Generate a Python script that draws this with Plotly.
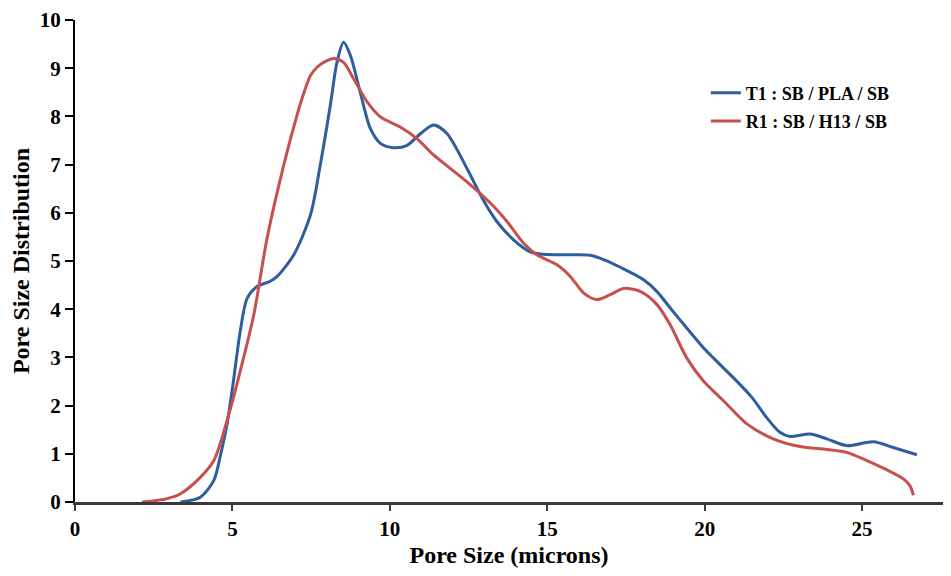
import plotly.graph_objects as go

# T1 : SB / PLA / SB
t1_x = [3.35, 3.98, 4.41, 4.63, 4.83, 5.03, 5.25, 5.47, 5.78, 6.2, 6.42, 6.95, 7.48, 7.79,
        8.11, 8.32, 8.53, 8.75, 9.06, 9.38, 9.7, 10.12, 10.55, 10.97, 11.39, 11.82, 12.45,
        12.98, 13.4, 13.93, 14.46, 14.88, 15.73, 16.37, 16.79, 17.32, 18.06, 18.48, 18.9,
        19.43, 19.96, 20.49, 20.91, 21.5, 21.97, 22.4, 22.71, 23.35, 23.88, 24.51, 25.36,
        25.99, 26.74]
t1_y = [0, 0.1, 0.45, 1.0, 1.62, 2.5, 3.55, 4.23, 4.47, 4.58, 4.68, 5.13, 5.96, 6.99,
        8.23, 9.12, 9.54, 9.26, 8.5, 7.75, 7.44, 7.35, 7.4, 7.64, 7.82, 7.64, 6.92,
        6.25, 5.82, 5.44, 5.19, 5.14, 5.13, 5.12, 5.03, 4.87, 4.61, 4.37, 4.03,
        3.61, 3.2, 2.85, 2.58, 2.17, 1.75, 1.44, 1.36, 1.41, 1.31, 1.17, 1.25,
        1.13, 0.98]

# R1 : SB / H13 / SB
r1_x = [2.13, 2.93, 3.35, 3.98, 4.41, 4.83, 5.25, 5.68, 6.1, 6.63, 7.05, 7.26, 7.48, 7.69,
        7.9, 8.22, 8.53, 8.85, 9.28, 9.7, 10.33, 10.86, 11.39, 12.45, 13.3, 13.72, 14.25,
        14.67, 15.31, 15.73, 16.15, 16.58, 17.0, 17.42, 17.95, 18.48, 18.9, 19.43, 19.96,
        20.6, 21.34, 22.18, 23.03, 23.88, 24.51, 25.15, 25.78, 26.31, 26.52, 26.63]
r1_y = [0, 0.07, 0.17, 0.51, 0.86, 1.69, 2.72, 3.89, 5.47, 6.99, 8.02, 8.47, 8.85, 9.02,
        9.12, 9.2, 9.12, 8.78, 8.3, 7.99, 7.78, 7.54, 7.2, 6.64, 6.13, 5.82, 5.37,
        5.13, 4.92, 4.68, 4.34, 4.2, 4.3, 4.43, 4.37, 4.1, 3.68, 2.99, 2.51,
        2.1, 1.62, 1.31, 1.15, 1.09, 1.03, 0.86, 0.67, 0.48, 0.34, 0.14]

x_ticks = [0, 5, 10, 15, 20, 25]
y_ticks = [0, 1, 2, 3, 4, 5, 6, 7, 8, 9, 10]

FONT = "Liberation Serif, Times New Roman, serif"

fig = go.Figure()
fig.add_trace(go.Scatter(x=t1_x, y=t1_y, mode="lines", name="T1 : SB / PLA / SB",
                         legendgroup="a",
                         line=dict(color="#2E5E9E", width=3, shape="spline", smoothing=0.8)))
fig.add_trace(go.Scatter(x=r1_x, y=r1_y, mode="lines", name="R1 : SB / H13 / SB",
                         legendgroup="b",
                         line=dict(color="#C5504E", width=3, shape="spline", smoothing=0.8)))

fig.update_layout(
    width=935, height=560,
    margin=dict(l=66.5, r=0, t=12, b=66.4),
    paper_bgcolor="white", plot_bgcolor="white",
    font=dict(family=FONT, color="black"),
    showlegend=True,
    legend=dict(x=0.7268, y=0.887, xanchor="left", yanchor="top",
                font=dict(family=FONT, size=18, color="black", weight="bold"),
                bgcolor="rgba(0,0,0,0)", tracegroupgap=2),
    xaxis=dict(range=[0, 27.57], tickvals=x_ticks, showgrid=False, zeroline=False,
               automargin=False, ticklabeloverflow="allow",
               showline=True, linecolor="#3a3a3a", linewidth=3,
               ticks="outside", ticklen=6, tickwidth=2, tickcolor="#3a3a3a",
               tickfont=dict(family=FONT, size=21, color="black", weight="bold"),
               title=dict(text="Pore Size (microns)", standoff=8,
                          font=dict(family=FONT, size=24, color="black", weight="bold"))),
    yaxis=dict(range=[0, 10], tickvals=y_ticks, showgrid=False, zeroline=False,
               automargin=False, ticklabeloverflow="allow",
               showline=True, linecolor="black", linewidth=2,
               ticks="outside", ticklen=8, tickwidth=2, tickcolor="black",
               tickfont=dict(family=FONT, size=21, color="black", weight="bold"),
               title=dict(text="Pore Size Distribution", standoff=14,
                          font=dict(family=FONT, size=24, color="black", weight="bold"))),
)

fig.write_html("out.html")
